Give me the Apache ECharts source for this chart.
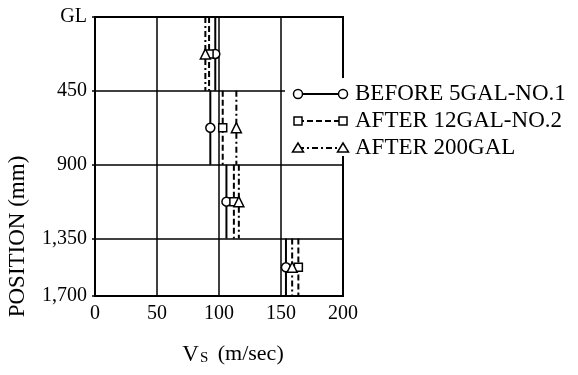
<!DOCTYPE html>
<html><head><meta charset="utf-8">
<script src="https://cdn.jsdelivr.net/npm/echarts@6/dist/echarts.min.js"></script>
<style>html,body{margin:0;padding:0;background:#fff}#c{width:578px;height:375px}</style>
</head><body><div id="c"></div>
<script>
// Layer boundaries (mm) and marker depths
const layerTop = [0, 450, 900, 1350];
const layerBottom = [450, 900, 1350, 1700];
const markerDepth = [225, 675, 1125, 1525];
// Vs (m/sec) per layer
const before5gal = [97, 93, 106, 154];
const after12gal = [92, 103, 112, 164];
const after200gal = [89, 114, 116, 159];
const seriesNames = ['BEFORE 5GAL-NO.1', 'AFTER 12GAL-NO.2', 'AFTER 200GAL'];
const yTicks = [0, 450, 900, 1350, 1700];
const xTicks = [0, 50, 100, 150, 200];

const FONT = '"Liberation Serif", "DejaVu Serif", serif';
const symbols = ['circle', 'rect', 'triangle'];
const symSizes = [9, 8, 10];
const dashes = ['solid', [6, 3], [6, 3, 2, 3]];
const allVals = [before5gal, after12gal, after200gal];

function buildData(vals) {
  const d = [];
  vals.forEach((v, i) => {
    d.push({ value: [v, layerTop[i]], symbol: 'none' });
    d.push({ value: [v, markerDepth[i]] });
    d.push({ value: [v, layerBottom[i]], symbol: 'none' });
    d.push({ value: ['-', '-'], symbol: 'none' });
  });
  return d;
}

const chart = echarts.init(document.getElementById('c'), null, { renderer: 'canvas' });

const series = allVals.map((vals, k) => ({
  name: seriesNames[k],
  type: 'line',
  data: buildData(vals),
  symbol: symbols[k],
  symbolSize: symSizes[k],
  showSymbol: true,
  showAllSymbol: true,
  connectNulls: false,
  animation: false,
  lineStyle: { color: '#000', width: 2, type: dashes[k] },
  itemStyle: { color: '#fff', borderColor: '#000', borderWidth: 1.5 },
  z: 3 + k
}));

// Manual legend: white panel + sample lines with end markers + labels
const legendRowsY = [94, 121, 148];
const graphic = [
  { type: 'rect', shape: { x: 285, y: 78, width: 70, height: 78 }, style: { fill: '#fff' }, z: 50 }
];
legendRowsY.forEach((y, k) => {
  graphic.push({
    type: 'line', shape: { x1: 298, y1: y, x2: 343, y2: y },
    style: { stroke: '#000', lineWidth: 2, lineDash: k === 0 ? null : dashes[k] }, z: 51
  });
  [298, 343].forEach(x => {
    if (k === 0) {
      graphic.push({ type: 'circle', shape: { cx: x, cy: y, r: 4.5 }, style: { fill: '#fff', stroke: '#000', lineWidth: 1.5 }, z: 52 });
    } else if (k === 1) {
      graphic.push({ type: 'rect', shape: { x: x - 4, y: y - 4, width: 8, height: 8 }, style: { fill: '#fff', stroke: '#000', lineWidth: 1.5 }, z: 52 });
    } else {
      graphic.push({ type: 'polygon', shape: { points: [[x, y - 5], [x + 5.5, y + 4], [x - 5.5, y + 4]] }, style: { fill: '#fff', stroke: '#000', lineWidth: 1.5 }, z: 52 });
    }
  });
  graphic.push({
    type: 'text', x: 355, y: y,
    style: { text: seriesNames[k], font: '23px ' + FONT, fill: '#000', textVerticalAlign: 'middle', textAlign: 'left' }, z: 52
  });
});

chart.setOption({
  backgroundColor: '#fff',
  animation: false,
  grid: { left: 95, top: 17, right: 235, bottom: 79, show: true, borderColor: '#000', borderWidth: 2, backgroundColor: 'transparent' },
  xAxis: {
    type: 'value', min: xTicks[0], max: xTicks[xTicks.length - 1], interval: 50,
    axisLine: { show: true, lineStyle: { color: '#000', width: 2 } },
    axisTick: { show: false },
    splitLine: { show: true, lineStyle: { color: '#000', width: 1.5 } },
    axisLabel: { color: '#000', fontFamily: FONT, fontSize: 20, margin: 8 },
    name: '{v|V}{s|S}{p| (m/sec)}',
    nameLocation: 'middle', nameGap: 47,
    nameTextStyle: {
      padding: [0, 0, 0, 28],
      rich: {
        v: { fontFamily: FONT, fontSize: 23, color: '#000' },
        s: { fontFamily: FONT, fontSize: 15, color: '#000', verticalAlign: 'bottom', padding: [8, 4, 0, 1] },
        p: { fontFamily: FONT, fontSize: 22, color: '#000' }
      }
    }
  },
  yAxis: {
    type: 'value', inverse: true, min: yTicks[0], max: yTicks[yTicks.length - 1], interval: 450,
    axisLine: { show: true, lineStyle: { color: '#000', width: 2 } },
    axisTick: { show: true, inside: false, length: 3, lineStyle: { color: '#000', width: 1.5 } },
    splitLine: { show: true, lineStyle: { color: '#000', width: 1.5 } },
    axisLabel: {
      color: '#000', fontFamily: FONT, fontSize: 20, margin: 8,
      formatter: v => v === 0 ? 'GL' : v.toLocaleString('en-US')
    },
    name: 'POSITION (mm)',
    nameLocation: 'middle', nameRotate: 90, nameGap: 66,
    nameTextStyle: { color: '#000', fontFamily: FONT, fontSize: 23, padding: [0, 160, 0, 0] }
  },
  graphic: graphic,
  series: series
});
</script></body></html>
